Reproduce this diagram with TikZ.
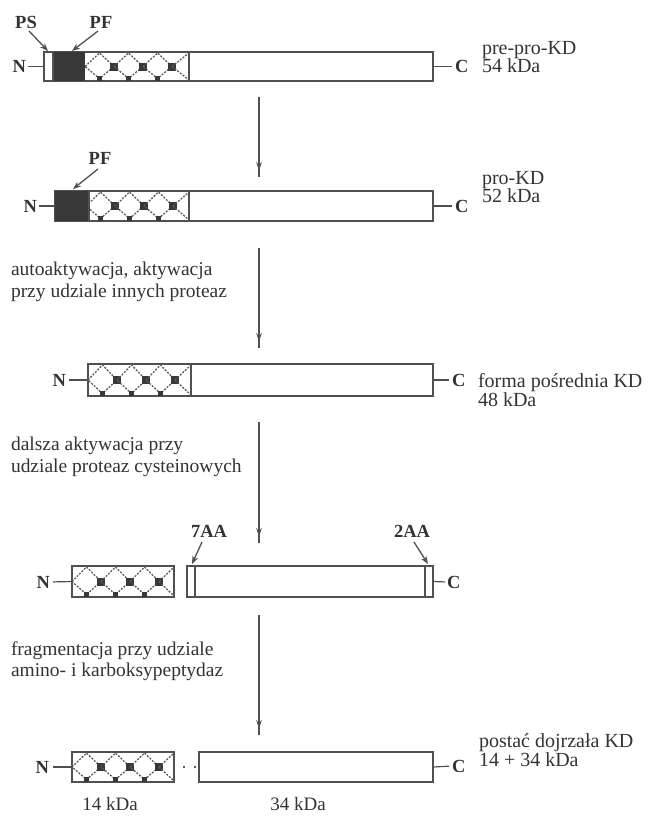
\documentclass[tikz,border=0pt]{standalone}
\usepackage{fontspec}
\setmainfont{Liberation Serif}
\usetikzlibrary{arrows.meta,decorations.markings}
\definecolor{ink}{HTML}{333333}
\definecolor{lin}{HTML}{505050}
\definecolor{dark}{HTML}{383838}
\definecolor{chn}{HTML}{5A5A5A}
\newcommand{\kdchain}[4]{%
  \foreach \kdi in {0,1,2}{%
    \pgfmathsetmacro{\kdcx}{#1+14.5+29*\kdi}%
    \pgfmathsetmacro{\kdcy}{(#2+#3)/2}%
    \draw[chainln] (\kdcx-14.5,\kdcy) -- (\kdcx,#2+1) -- (\kdcx+14.5,\kdcy) -- (\kdcx,#3-2.5) -- cycle;
    \fill[sqr] (\kdcx-2.8,#3-5.5) rectangle (\kdcx+2.8,#3-0.5);
    \fill[sqr] (\kdcx+14.5-4,\kdcy-4) rectangle (\kdcx+14.5+4,\kdcy+4);
  }%
  \pgfmathsetmacro{\kdcy}{(#2+#3)/2}%
  \draw[chainln] (#1+87,\kdcy) -- (#4,#2+1) (#1+87,\kdcy) -- (#4,#3-1);
}
\begin{document}
\begin{tikzpicture}[x=1pt,y=-1pt,
  every node/.style={text=ink, inner sep=0pt, outer sep=0pt},
  bar/.style={draw=lin, line width=1.3pt, rectangle, anchor=north west},
  chainln/.style={draw=chn, line width=1.3pt, dash pattern=on 2pt off 1.4pt},
  sqr/.style={fill=dark},
  term/.style={font=\bfseries\fontsize{18.5}{18}\selectfont},
  lbl/.style={font=\fontsize{20}{18.5}\selectfont, align=left, anchor=west},
  note/.style={font=\fontsize{19.5}{21.5}\selectfont, align=left, anchor=west},
  conn/.style={draw=lin, line width=1.2pt},
  pointer/.style={draw=lin, line width=1.3pt, -{Stealth[length=8pt,width=6pt]}},
  flow/.style={draw=lin, line width=1.3pt, postaction={decorate, decoration={markings, mark=at position -6pt with {\arrow{Stealth[length=9pt,width=5.5pt]}}}}}
]
\useasboundingbox (0,0) rectangle (653,817);

% ---------- bar 1 : pre-pro-KD ----------
\node[bar, minimum width=389pt, minimum height=29pt] (b1) at (44,52) {};
\kdchain{85}{52}{81}{189}
\fill[dark] (53,52) rectangle (85,81);
\draw[conn] (53,52) -- (53,81);
\draw[conn] (189,52) -- (189,81);
\node[term, anchor=east] (n1) at (26,66.5) {N};
\node[term, anchor=west] (c1) at (455,66.5) {C};
\draw[conn, shorten <=2pt] (n1.east) -- (b1.west);
\draw[conn, shorten >=3pt] (b1.east) -- (c1.west);
\node[term] (ps1) at (26,22) {PS};
\node[term] (pf1) at (101,22) {PF};
\coordinate (ps1t) at (48,51);
\coordinate (pf1t) at (72,51);
\draw[pointer] (29,31) -- (ps1t);
\draw[pointer] (98,31) -- (pf1t);
\node[lbl] (l1) at (482,57) {pre-pro-KD\\54 kDa};

% ---------- arrow 1 ----------
\coordinate (a1s) at (259,97);
\coordinate (a1e) at (259,177);
\draw[flow] (a1s) -- (a1e);

% ---------- bar 2 : pro-KD ----------
\node[bar, minimum width=378pt, minimum height=30pt] (b2) at (55,191) {};
\kdchain{86}{191}{221}{189}
\fill[dark] (55,191) rectangle (89,221);
\draw[conn] (89,191) -- (89,221);
\draw[conn] (189,191) -- (189,221);
\node[term, anchor=east] (n2) at (37,206) {N};
\node[term, anchor=west] (c2) at (455,206) {C};
\draw[conn, shorten <=2pt] (n2.east) -- (b2.west);
\draw[conn, shorten >=3pt] (b2.east) -- (c2.west);
\node[term] (pf2) at (100,158) {PF};
\coordinate (pf2t) at (73,189);
\draw[pointer] (98,169) -- (pf2t);
\node[lbl] (l2) at (482,187) {pro-KD\\52 kDa};

\node[note] (t1) at (11,282) {autoaktywacja, aktywacja\\przy udziale innych proteaz};

% ---------- arrow 2 ----------
\coordinate (a2s) at (259,248);
\coordinate (a2e) at (259,348);
\draw[flow] (a2s) -- (a2e);

% ---------- bar 3 : forma posrednia ----------
\node[bar, minimum width=345pt, minimum height=32pt] (b3) at (88,364) {};
\kdchain{88}{364}{396}{191}
\draw[conn] (191,364) -- (191,396);
\node[term, anchor=east] (n3) at (66,380) {N};
\node[term, anchor=west] (c3) at (452,380) {C};
\draw[conn, shorten <=3pt] (n3.east) -- (b3.west);
\draw[conn, shorten >=3pt] (b3.east) -- (c3.west);
\node[lbl] (l3) at (478,390) {forma pośrednia KD\\48 kDa};

\node[note] (t2) at (11,457) {dalsza aktywacja przy\\udziale proteaz cysteinowych};

% ---------- arrow 3 ----------
\coordinate (a3s) at (259,422);
\coordinate (a3e) at (259,543);
\draw[flow] (a3s) -- (a3e);

% ---------- bar 4 ----------
\node[bar, minimum width=102pt, minimum height=31pt] (b4l) at (72,566) {};
\kdchain{72}{566}{597}{174}
\node[bar, minimum width=246pt, minimum height=31pt] (b4r) at (187,566) {};
\draw[conn] (195,566) -- (195,597);
\draw[conn] (425,566) -- (425,597);
\node[term, anchor=east] (n4) at (50,582) {N};
\node[term, anchor=west] (c4) at (447,582) {C};
\draw[conn, shorten <=3pt] (n4.east) -- (b4l.west);
\draw[conn, shorten >=2pt] (b4r.east) -- (c4.west);
\node[term] (aa7) at (209,531) {7AA};
\node[term] (aa2) at (412,531) {2AA};
\coordinate (aa7t) at (192,564);
\coordinate (aa2t) at (428,564);
\draw[pointer] (202,542) -- (aa7t);
\draw[pointer] (414,542) -- (aa2t);

\node[note] (t3) at (11,661) {fragmentacja przy udziale\\amino- i karboksypeptydaz};

% ---------- arrow 4 ----------
\coordinate (a4s) at (259,615);
\coordinate (a4e) at (259,735);
\draw[flow] (a4s) -- (a4e);

% ---------- bar 5 : postac dojrzala ----------
\node[bar, minimum width=102pt, minimum height=30pt] (b5l) at (72,752) {};
\kdchain{72}{752}{782}{174}
\node[bar, minimum width=234pt, minimum height=30pt] (b5r) at (199,752) {};
\draw[draw=chn, line width=1.5pt, dash pattern=on 2pt off 9pt, shorten <=9pt, shorten >=3pt] (b5l.east) -- (b5r.west);
\node[term, anchor=east] (n5) at (49,767) {N};
\node[term, anchor=west] (c5) at (452,766) {C};
\draw[conn, shorten <=4pt] (n5.east) -- (b5l.west);
\draw[conn, shorten >=3pt] (b5r.east) -- (c5.west);
\node[lbl] (l5) at (479,750) {postać dojrzała KD\\14 + 34 kDa};
\node[font=\fontsize{19}{18}\selectfont] (k14) at (110,804) {14 kDa};
\node[font=\fontsize{19}{18}\selectfont] (k34) at (298,804) {34 kDa};
\end{tikzpicture}
\end{document}
